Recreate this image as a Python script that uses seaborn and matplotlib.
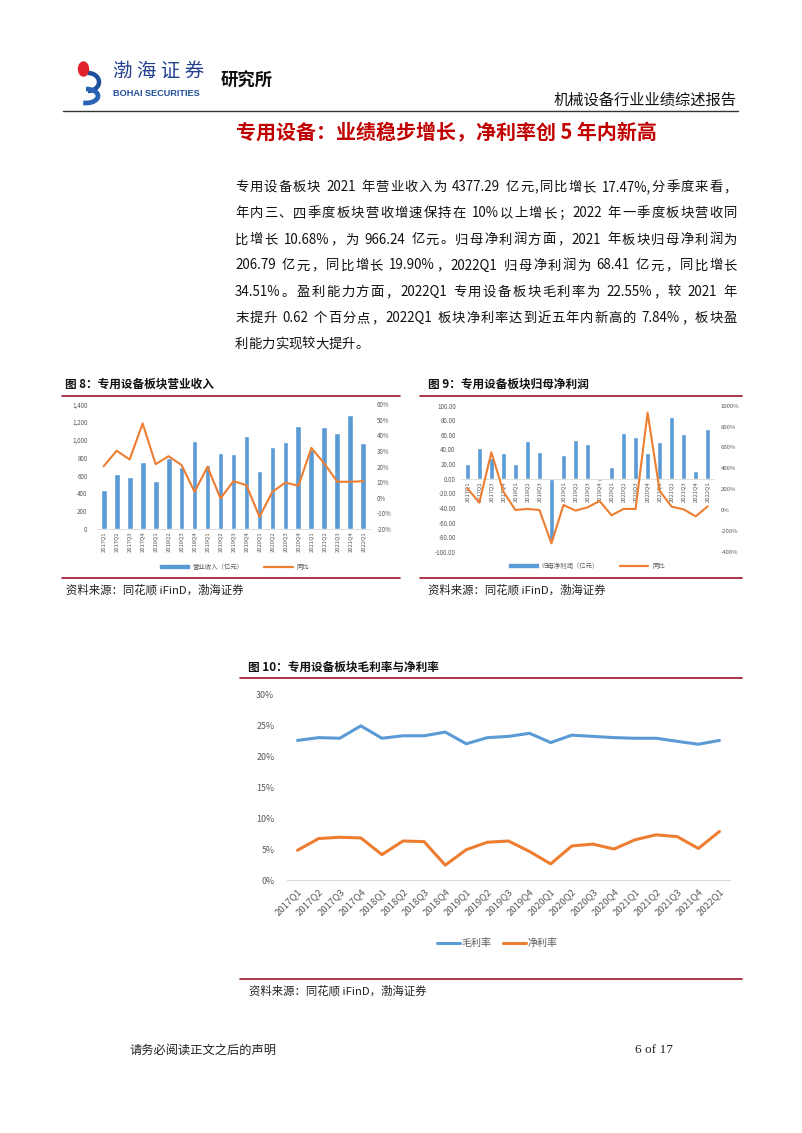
import re
import numpy as np
import pandas as pd
import matplotlib
matplotlib.use("Agg")
import matplotlib.pyplot as plt
import seaborn as sns
from matplotlib.lines import Line2D
from matplotlib.patches import Circle, Arc, Patch

sns.set_theme(style="white")
plt.rcParams["font.family"] = ["Noto Sans CJK SC", "DejaVu Sans"]
plt.rcParams["axes.unicode_minus"] = False

# ---------------- data ----------------
quarters = ["2017Q1", "2017Q2", "2017Q3", "2017Q4", "2018Q1", "2018Q2", "2018Q3",
            "2018Q4", "2019Q1", "2019Q2", "2019Q3", "2019Q4", "2020Q1", "2020Q2",
            "2020Q3", "2020Q4", "2021Q1", "2021Q2", "2021Q3", "2021Q4", "2022Q1"]
revenue = [438, 614, 580, 749, 543, 792, 696, 988, 719, 850, 838, 1044,
           651, 925, 973, 1157, 887, 1142, 1074, 1277, 966.24]
revenue_yoy = [20.3, 30.2, 24.6, 47.7, 21.6, 26.7, 21.0, 3.9, 19.9, -0.4, 10.7, 8.1,
               -12.2, 3.9, 9.8, 7.7, 32.0, 22.0, 10.3, 10.3, 10.68]
profit = [19.6, 42.5, 28.0, 35.0, 20.0, 51.6, 36.5, -84.0, 32.0, 52.5, 47.5, -3.0,
          16.0, 62.0, 57.0, 34.7, 50.7, 84.0, 60.7, 11.0, 68.41]
profit_yoy = [208, 70, 553, 176, 0, 10, 0, -320, 48, -6, 25, 86,
              -51, 10, 10, 933, 185, 32, 6, -61, 34.51]
gross_margin = [22.55, 23.0, 22.9, 24.9, 22.9, 23.3, 23.3, 23.9, 22.0, 23.0, 23.2, 23.7,
                22.2, 23.4, 23.2, 23.0, 22.9, 22.9, 22.4, 21.93, 22.55]
net_margin = [4.8, 6.7, 6.9, 6.8, 4.1, 6.3, 6.2, 2.4, 4.9, 6.1, 6.3, 4.6,
              2.6, 5.5, 5.8, 5.0, 6.5, 7.3, 7.0, 5.1, 7.84]

rev_ticks = [0, 200, 400, 600, 800, 1000, 1200, 1400]
rev_yoy_ticks = [-20, -10, 0, 10, 20, 30, 40, 50, 60]
profit_ticks = [-100, -80, -60, -40, -20, 0, 20, 40, 60, 80, 100]
profit_yoy_ticks = [-400, -200, 0, 200, 400, 600, 800, 1000]
margin_ticks = [0, 5, 10, 15, 20, 25, 30]

header_title = "机械设备行业业绩综述报告"
section_title = "专用设备：业绩稳步增长，净利率创 5 年内新高"
para_lines = [
    "专用设备板块 2021 年营业收入为 4377.29 亿元,同比增长 17.47%,分季度来看，",
    "年内三、四季度板块营收增速保持在 10%以上增长；2022 年一季度板块营收同",
    "比增长 10.68%，为 966.24 亿元。归母净利润方面，2021 年板块归母净利润为",
    "206.79 亿元，同比增长 19.90%，2022Q1 归母净利润为 68.41 亿元，同比增长",
    "34.51%。盈利能力方面，2022Q1 专用设备板块毛利率为 22.55%，较 2021 年",
    "末提升 0.62 个百分点，2022Q1 板块净利率达到近五年内新高的 7.84%，板块盈",
    "利能力实现较大提升。",
]
title8 = "图 8：专用设备板块营业收入"
title9 = "图 9：专用设备板块归母净利润"
title10 = "图 10：专用设备板块毛利率与净利率"
source_text = "资料来源：同花顺 iFinD，渤海证券"
legend8 = ["营业收入（亿元）", "同比"]
legend9 = ["归母净利润（亿元）", "同比"]
legend10 = ["毛利率", "净利率"]
footer_left = "请务必阅读正文之后的声明"
footer_right = "6 of 17"

# ---------------- styles ----------------
BLUE = "#5B9BD5"
ORANGE = "#ED7D31"
TICK = "#595959"
RED = "#A0122A"
AXIS = "#D9D9D9"

W, H = 802, 1133
fig = plt.figure(figsize=(W / 100, H / 100), dpi=100)
fig.patch.set_facecolor("white")


def box(x0, y0, x1, y1):
    return [x0 / W, 1 - y1 / H, (x1 - x0) / W, (y1 - y0) / H]


def ftxt(x, y, s, **kw):
    kw.setdefault("va", "center")
    return fig.text(x / W, 1 - y / H, s, **kw)


def hline(x0, x1, y, color, lw):
    fig.add_artist(Line2D([x0 / W, x1 / W], [1 - y / H, 1 - y / H], color=color, lw=lw))


renderer = fig.canvas.get_renderer()


def justify(line, x0, x1, y, fs, do_justify=True, **kw):
    tokens = re.findall(r"[A-Za-z0-9.%,]+|\s|.", line)
    widths = []
    for tk in tokens:
        if tk == " ":
            widths.append(fs * 100 / 72 * 0.28)
            continue
        t = fig.text(0, 0, tk, fontsize=fs, **kw)
        widths.append(t.get_window_extent(renderer).width)
        t.remove()
    gap = (x1 - x0 - sum(widths)) / (len(tokens) - 1) if do_justify else 0.0
    x = x0
    for tk, w in zip(tokens, widths):
        if tk != " ":
            ftxt(x, y, tk, fontsize=fs, ha="left", **kw)
        x += w + gap


# ---------------- header ----------------
fig.add_artist(Arc((88 / W, 1 - 82 / H), 22 / W, 18 / H, theta1=-90, theta2=95,
                   color="#1F4E9A", lw=3.2, transform=fig.transFigure))
fig.add_artist(Arc((86 / W, 1 - 96 / H), 24 / W, 14 / H, theta1=-120, theta2=90,
                   color="#2A63B5", lw=3.4, transform=fig.transFigure))
fig.add_artist(Circle((83.5 / W, 1 - 69 / H), 0.0062, color="#E0202A",
                      transform=fig.transFigure))
ftxt(113, 71, "渤 海 证 券", fontsize=14, color="#23408E", ha="left")
ftxt(113, 93, "BOHAI SECURITIES", fontsize=6.6, color="#1F4E9A", ha="left",
     fontweight="bold", family=["Liberation Sans", "DejaVu Sans"])
ftxt(221, 81, "研究所", fontsize=12.5, color="#111111", ha="left", fontweight="bold")
ftxt(737, 100, header_title, fontsize=11, color="#111111", ha="right")
hline(63, 738, 111, "#333333", 1.0)

# ---------------- section title + paragraph ----------------
ftxt(236, 133, section_title, fontsize=14.4, color="#C00000", ha="left", fontweight="bold")
line_y = [187, 213, 239.5, 265.5, 292, 318, 344]
for i, (ln, yy) in enumerate(zip(para_lines, line_y)):
    justify(ln, 235, 737, yy, 9.6, do_justify=(i < len(para_lines) - 1), color="#111111")

df = pd.DataFrame({
    "quarter": quarters,
    "pos": np.arange(len(quarters)),
    "revenue": revenue,
    "rev_yoy": revenue_yoy,
    "profit": profit,
    "profit_yoy": profit_yoy,
})


def style_pair(a, b):
    for ax_ in (a, b):
        ax_.set_xlabel("")
        ax_.set_ylabel("")
        ax_.set_facecolor("none")
        for s in ax_.spines.values():
            s.set_visible(False)
    a.spines["bottom"].set_visible(True)
    a.spines["bottom"].set_color(AXIS)
    a.spines["bottom"].set_linewidth(0.6)


def bar_legend(ax, labels, cx, cy):
    ax.legend([Patch(color=BLUE), Line2D([], [], color=ORANGE, lw=1.6)], labels,
              loc="center", bbox_to_anchor=(cx / W, 1 - cy / H), bbox_transform=fig.transFigure,
              ncol=2, frameon=False, fontsize=4.6, handlelength=4.5, handleheight=0.45,
              columnspacing=3.2, handletextpad=0.6, labelcolor=TICK)


# ---------------- chart 8 ----------------
ftxt(65, 384, title8, fontsize=8.4, fontweight="bold", ha="left", color="#111111")
hline(62, 400, 396, RED, 1.2)
ax8 = fig.add_axes(box(97.2, 404.3, 369.8, 529))
sns.barplot(data=df, x="pos", y="revenue", color=BLUE, saturation=1, width=0.45,
            native_scale=True, ax=ax8)
ax8b = ax8.twinx()
sns.lineplot(data=df, x="pos", y="rev_yoy", color=ORANGE, lw=1.5, ax=ax8b)
ax8.set_xlim(-0.5, len(quarters) - 0.5)
ax8.set_ylim(rev_ticks[0], rev_ticks[-1])
ax8.set_yticks(rev_ticks, [f"{v:,}" for v in rev_ticks])
ax8.set_xticks(df["pos"], quarters)
ax8b.set_ylim(rev_yoy_ticks[0], rev_yoy_ticks[-1])
ax8b.set_yticks(rev_yoy_ticks, [f"{v}%" for v in rev_yoy_ticks])
style_pair(ax8, ax8b)
ax8.tick_params(axis="y", labelsize=4.5, labelcolor=TICK, length=0, pad=7)
ax8.tick_params(axis="x", labelsize=4.2, labelcolor=TICK, length=0, pad=2, rotation=90)
ax8b.tick_params(axis="y", labelsize=4.5, labelcolor=TICK, length=0, pad=5)
bar_legend(ax8, legend8, 235, 567)
hline(62, 400, 578, RED, 1.2)
ftxt(66, 590, source_text, fontsize=8.2, ha="left", color="#222222", style="italic")

# ---------------- chart 9 ----------------
ftxt(428, 384, title9, fontsize=8.4, fontweight="bold", ha="left", color="#111111")
hline(420, 742, 396, RED, 1.2)
ax9 = fig.add_axes(box(461.3, 405.7, 713.7, 551.7))
sns.barplot(data=df, x="pos", y="profit", color=BLUE, saturation=1, width=0.45,
            native_scale=True, ax=ax9)
ax9b = ax9.twinx()
sns.lineplot(data=df, x="pos", y="profit_yoy", color=ORANGE, lw=1.5, ax=ax9b)
ax9.set_xlim(-0.5, len(quarters) - 0.5)
ax9.set_ylim(profit_ticks[0], profit_ticks[-1])
ax9.set_yticks(profit_ticks, [f"{v:.2f}" for v in profit_ticks])
ax9.set_xticks(df["pos"], quarters)
ax9b.set_ylim(profit_yoy_ticks[0], profit_yoy_ticks[-1])
ax9b.set_yticks(profit_yoy_ticks, [f"{v}%" for v in profit_yoy_ticks])
style_pair(ax9, ax9b)
ax9.spines["bottom"].set_position(("data", 0))
ax9.tick_params(axis="y", labelsize=4.5, labelcolor=TICK, length=0, pad=4)
ax9.tick_params(axis="x", labelsize=4.2, labelcolor=TICK, length=0, pad=2, rotation=90)
ax9b.tick_params(axis="y", labelsize=4.3, labelcolor=TICK, length=0, pad=5)
bar_legend(ax9, legend9, 587, 566)
hline(420, 742, 578, RED, 1.2)
ftxt(428, 590, source_text, fontsize=8.2, ha="left", color="#222222", style="italic")

# ---------------- chart 10 ----------------
ftxt(248, 667, title10, fontsize=8.4, fontweight="bold", ha="left", color="#111111")
hline(240, 742, 678, RED, 1.2)
ax10 = fig.add_axes(box(287, 694.3, 730, 880))
mdf = pd.DataFrame({
    "pos": list(np.arange(len(quarters))) * 2,
    "value": gross_margin + net_margin,
    "series": [legend10[0]] * len(quarters) + [legend10[1]] * len(quarters),
})
sns.lineplot(data=mdf, x="pos", y="value", hue="series", palette=[BLUE, ORANGE],
             lw=2.2, legend=False, ax=ax10)
ax10.set_xlim(-0.5, len(quarters) - 0.5)
ax10.set_ylim(margin_ticks[0], margin_ticks[-1])
ax10.set_yticks(margin_ticks, [f"{v}%" for v in margin_ticks])
ax10.set_xticks(np.arange(len(quarters)), quarters)
ax10.set_xlabel("")
ax10.set_ylabel("")
for s in ax10.spines.values():
    s.set_visible(False)
ax10.spines["bottom"].set_visible(True)
ax10.spines["bottom"].set_color(AXIS)
ax10.spines["bottom"].set_linewidth(0.8)
ax10.tick_params(axis="y", labelsize=6.4, labelcolor=TICK, length=0, pad=9)
ax10.tick_params(axis="x", labelsize=6.9, labelcolor=TICK, length=0, pad=5)
for lab in ax10.get_xticklabels():
    lab.set_rotation(45)
    lab.set_ha("right")
    lab.set_va("top")
    lab.set_rotation_mode("anchor")
ax10.legend([Line2D([], [], color=BLUE, lw=2.2), Line2D([], [], color=ORANGE, lw=2.2)], legend10,
            loc="center", bbox_to_anchor=(497 / W, 1 - 943 / H), bbox_transform=fig.transFigure,
            ncol=2, frameon=False, fontsize=7.2, handlelength=2.3, columnspacing=1.2,
            handletextpad=0.15, labelcolor=TICK)
hline(240, 742, 979, RED, 1.2)
ftxt(249, 991, source_text, fontsize=8.2, ha="left", color="#222222", style="italic")

# ---------------- footer ----------------
ftxt(129, 1050, footer_left, fontsize=8.8, ha="left", color="#222222")
ftxt(673, 1050, footer_right, fontsize=9.5, ha="right", color="#222222",
     family=["Liberation Serif", "DejaVu Serif"])

fig.savefig("out.png", dpi=100, facecolor="white")
